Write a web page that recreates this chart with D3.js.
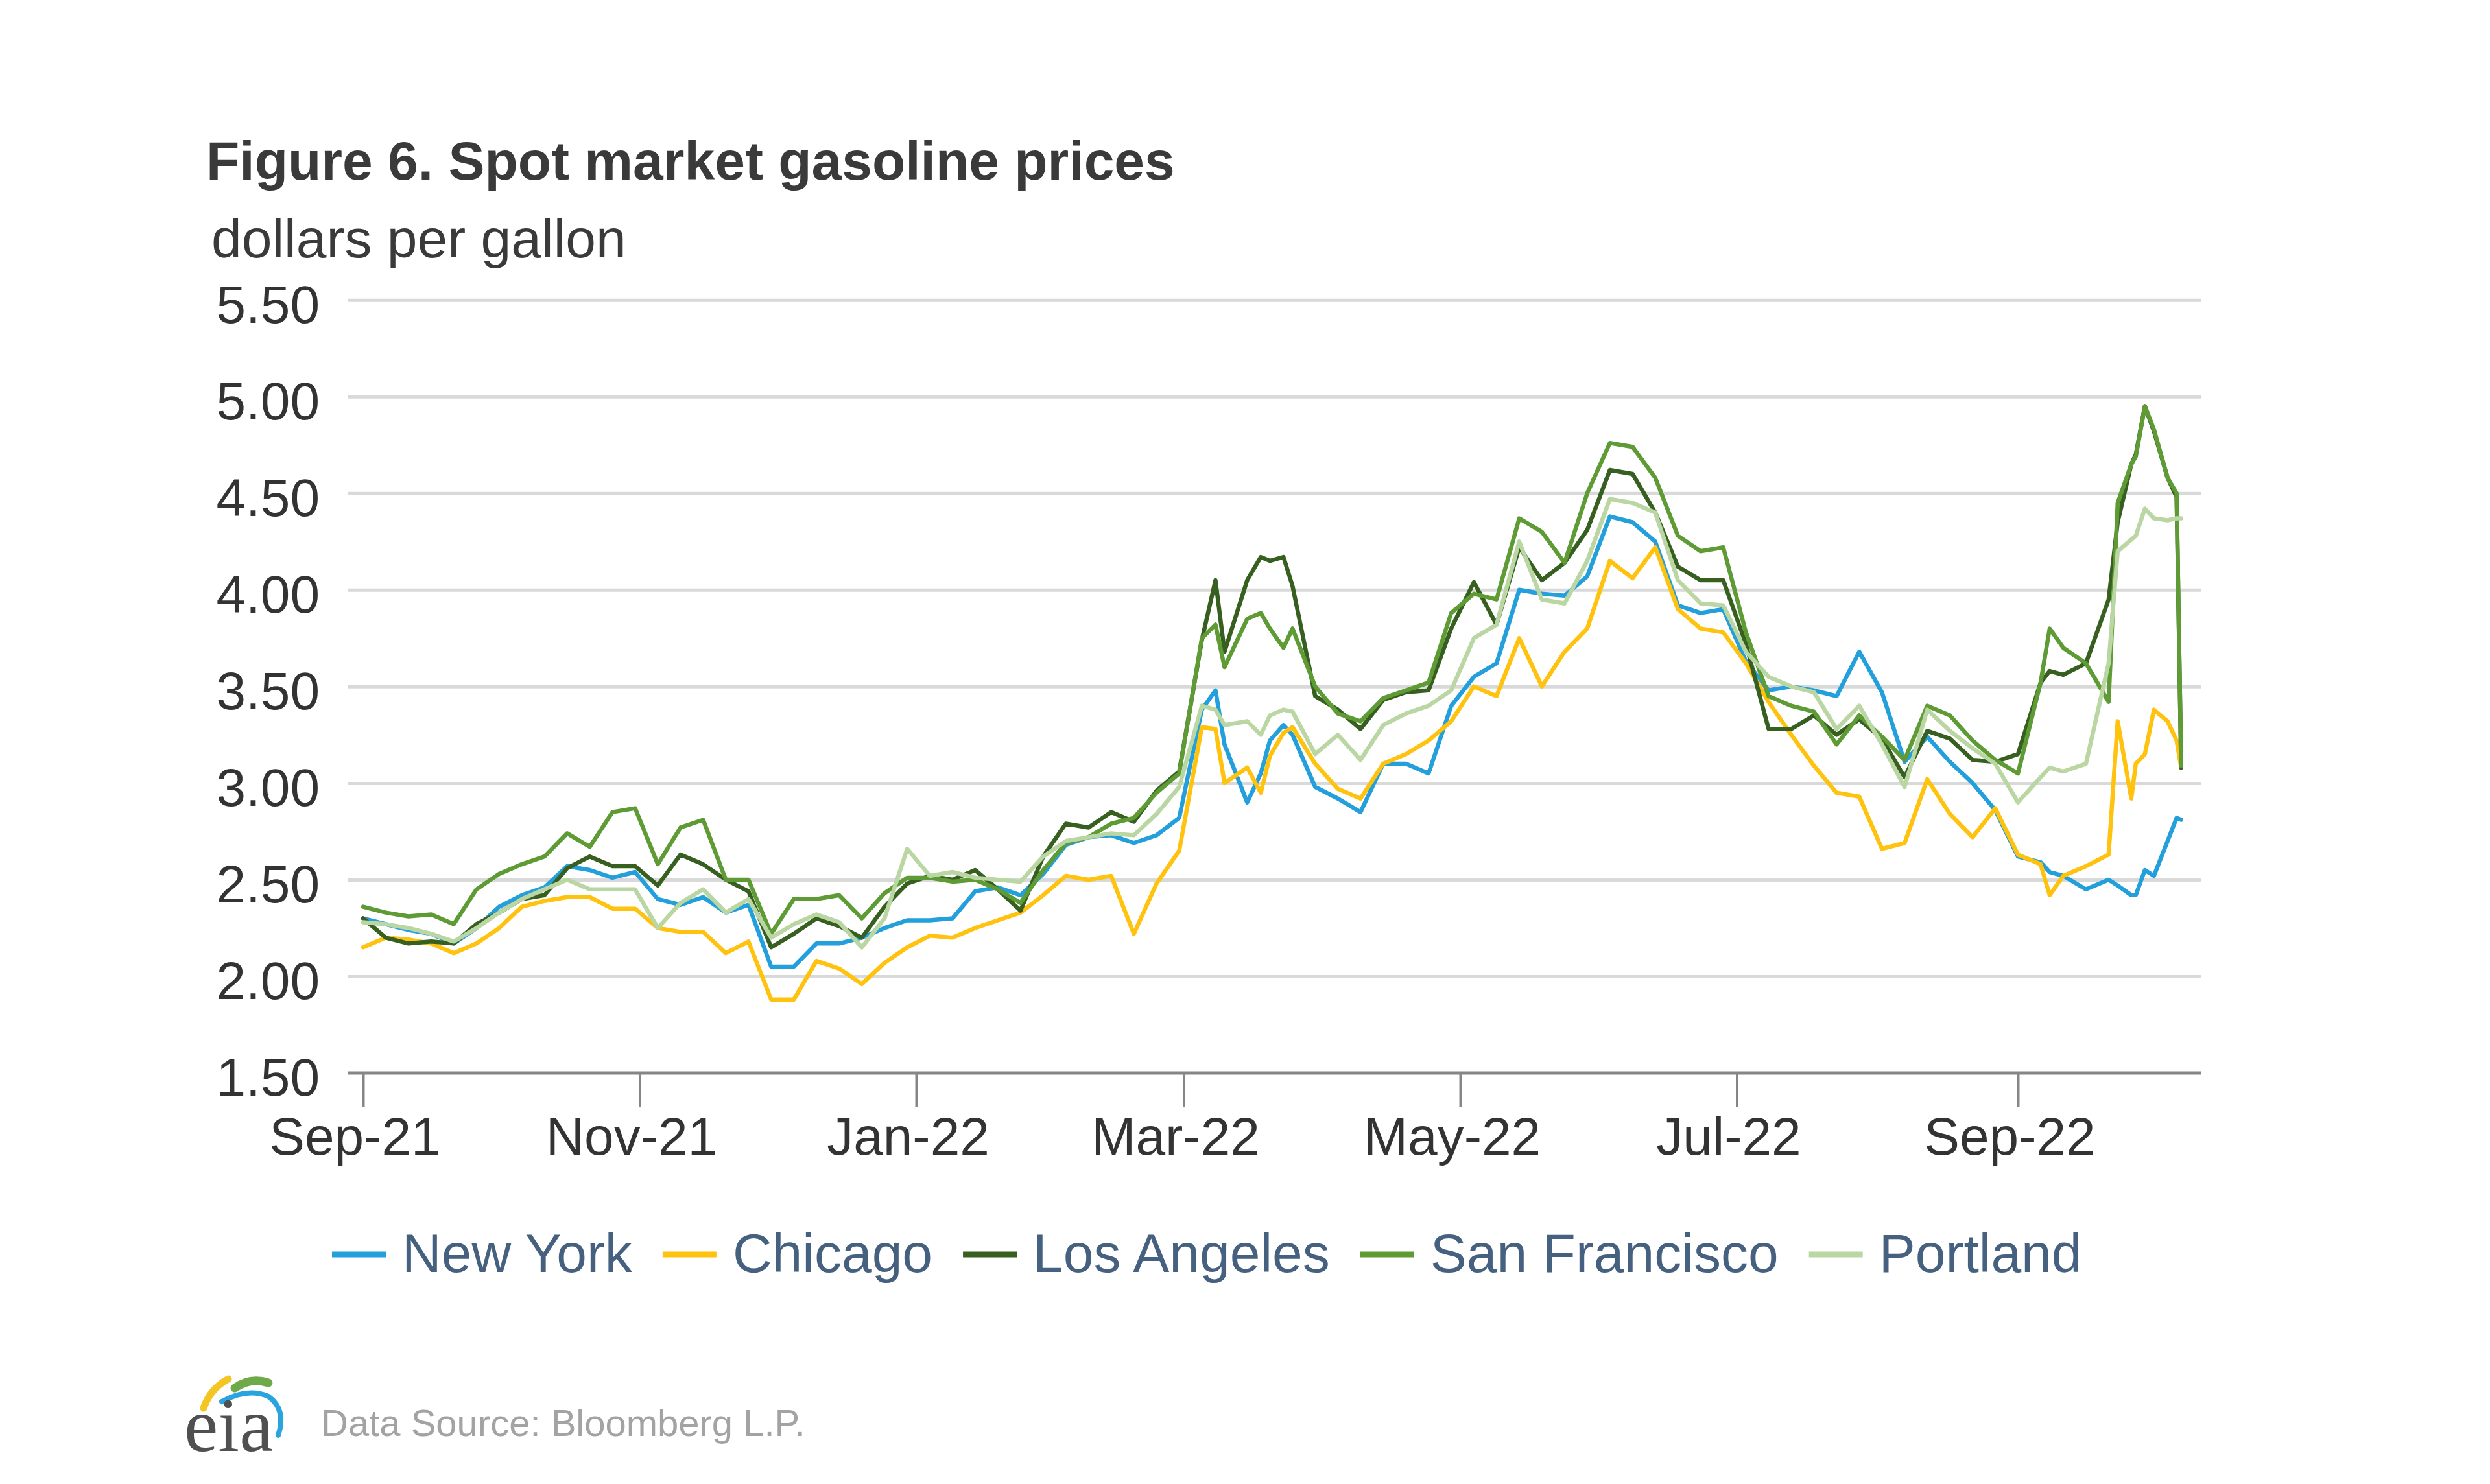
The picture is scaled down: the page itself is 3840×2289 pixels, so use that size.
<!DOCTYPE html>
<html>
<head>
<meta charset="utf-8">
<script src="https://cdn.jsdelivr.net/npm/d3@7"></script>
<style>
  html, body { margin: 0; padding: 0; background: #ffffff; }
  svg { display: block; }
</style>
</head>
<body>
<svg id="chart" width="3840" height="2289"></svg>
<script>
// ---------------- DATA ----------------
const title = "Figure 6. Spot market gasoline prices";
const unitLabel = "dollars per gallon";
const sourceText = "Data Source: Bloomberg L.P.";

const dates = [
  "2021-09-01","2021-09-06","2021-09-11","2021-09-16","2021-09-21","2021-09-26","2021-10-01","2021-10-06","2021-10-11","2021-10-16","2021-10-21","2021-10-26","2021-10-31","2021-11-05","2021-11-10","2021-11-15","2021-11-20","2021-11-25","2021-11-30","2021-12-05","2021-12-10","2021-12-15","2021-12-20","2021-12-25","2021-12-30","2022-01-04",
  "2022-01-09","2022-01-14","2022-01-19","2022-01-24","2022-01-29","2022-02-03","2022-02-08","2022-02-13","2022-02-18","2022-02-23","2022-02-28",
  "2022-03-05","2022-03-08","2022-03-10","2022-03-15","2022-03-18","2022-03-20","2022-03-23","2022-03-25",
  "2022-03-30","2022-04-04","2022-04-09","2022-04-14","2022-04-19","2022-04-24","2022-04-29","2022-05-04","2022-05-09","2022-05-14","2022-05-19","2022-05-24","2022-05-29","2022-06-03","2022-06-08","2022-06-13","2022-06-18",
  "2022-06-23","2022-06-28","2022-07-03","2022-07-08","2022-07-13","2022-07-18","2022-07-23","2022-07-28","2022-08-02","2022-08-07","2022-08-12","2022-08-17","2022-08-22","2022-08-27","2022-09-01",
  "2022-09-06","2022-09-08","2022-09-11","2022-09-16","2022-09-21","2022-09-23","2022-09-26","2022-09-27","2022-09-29","2022-10-01","2022-10-04","2022-10-06","2022-10-07"
];

const newYork = [
  2.30,2.27,2.24,2.22,2.17,2.25,2.36,2.42,2.46,2.57,2.55,2.51,2.54,2.40,2.37,2.41,2.33,2.37,2.05,2.05,2.17,2.17,2.20,2.25,2.29,2.29,
  2.30,2.44,2.46,2.42,2.53,2.68,2.72,2.73,2.69,2.73,2.82,
  3.38,3.48,3.20,2.90,3.05,3.22,3.30,3.25,
  2.98,2.92,2.85,3.10,3.10,3.05,3.40,3.55,3.62,4.00,3.98,3.97,4.07,4.38,4.35,4.25,3.92,
  3.88,3.90,3.63,3.48,3.50,3.48,3.45,3.68,3.47,3.11,3.24,3.11,3.00,2.86,2.62,
  2.59,2.54,2.52,2.45,2.50,2.47,2.42,2.42,2.55,2.52,2.70,2.82,2.81
];
const chicago = [
  2.15,2.20,2.19,2.17,2.12,2.17,2.25,2.36,2.39,2.41,2.41,2.35,2.35,2.25,2.23,2.23,2.12,2.18,1.88,1.88,2.08,2.04,1.96,2.07,2.15,2.21,
  2.20,2.25,2.29,2.33,2.42,2.52,2.50,2.52,2.22,2.48,2.65,
  3.29,3.28,3.00,3.08,2.95,3.14,3.26,3.29,
  3.10,2.97,2.92,3.10,3.15,3.22,3.32,3.50,3.45,3.75,3.50,3.68,3.80,4.15,4.06,4.22,3.90,
  3.80,3.78,3.62,3.42,3.25,3.09,2.95,2.93,2.66,2.69,3.02,2.84,2.72,2.87,2.63,
  2.58,2.42,2.52,2.57,2.63,3.32,2.92,3.10,3.15,3.38,3.32,3.22,3.08
];
const losAngeles = [
  2.30,2.20,2.17,2.18,2.17,2.27,2.33,2.40,2.42,2.56,2.62,2.57,2.57,2.47,2.63,2.58,2.50,2.44,2.15,2.22,2.30,2.26,2.20,2.36,2.48,2.52,
  2.50,2.55,2.45,2.34,2.62,2.79,2.77,2.85,2.80,2.96,3.06,
  3.74,4.05,3.68,4.05,4.17,4.15,4.17,4.02,
  3.45,3.38,3.28,3.43,3.47,3.48,3.80,4.04,3.82,4.22,4.05,4.14,4.31,4.62,4.60,4.40,4.12,
  4.05,4.05,3.72,3.28,3.28,3.35,3.25,3.33,3.23,3.03,3.27,3.23,3.12,3.11,3.15,
  3.52,3.58,3.56,3.62,3.95,4.35,4.65,4.70,4.95,4.82,4.58,4.48,3.08
];
const sanFrancisco = [
  2.36,2.33,2.31,2.32,2.27,2.45,2.53,2.58,2.62,2.74,2.67,2.85,2.87,2.58,2.77,2.81,2.50,2.50,2.22,2.40,2.40,2.42,2.30,2.43,2.51,2.51,
  2.49,2.50,2.45,2.38,2.55,2.69,2.72,2.79,2.82,2.95,3.05,
  3.75,3.82,3.60,3.85,3.88,3.80,3.70,3.80,
  3.50,3.36,3.32,3.44,3.48,3.52,3.88,3.98,3.95,4.37,4.30,4.14,4.50,4.76,4.74,4.58,4.28,
  4.20,4.22,3.78,3.45,3.40,3.37,3.20,3.35,3.24,3.12,3.40,3.35,3.22,3.12,3.05,
  3.52,3.80,3.70,3.62,3.42,4.45,4.65,4.69,4.95,4.83,4.58,4.50,3.09
];
const portland = [
  2.28,2.27,2.25,2.22,2.18,2.25,2.33,2.40,2.45,2.50,2.45,2.45,2.45,2.25,2.38,2.45,2.33,2.40,2.20,2.27,2.32,2.28,2.15,2.30,2.66,2.52,
  2.54,2.51,2.50,2.49,2.62,2.70,2.72,2.74,2.73,2.84,2.98,
  3.40,3.38,3.30,3.32,3.25,3.35,3.38,3.37,
  3.15,3.25,3.12,3.30,3.36,3.40,3.48,3.75,3.82,4.25,3.95,3.93,4.15,4.47,4.45,4.40,4.05,
  3.93,3.92,3.68,3.55,3.50,3.47,3.28,3.40,3.20,2.98,3.38,3.27,3.18,3.10,2.90,
  3.03,3.08,3.06,3.10,3.62,4.20,4.26,4.28,4.42,4.37,4.36,4.37,4.37
];

const seriesNames = ["New York", "Chicago", "Los Angeles", "San Francisco", "Portland"];
const seriesColors = ["#23a0dc", "#ffc20e", "#365f20", "#5e9b35", "#bad6a2"];
const seriesValues = [newYork, chicago, losAngeles, sanFrancisco, portland];

const yTicks = [1.5, 2.0, 2.5, 3.0, 3.5, 4.0, 4.5, 5.0, 5.5];
const xTickDates = ["2021-09-01","2021-11-01","2022-01-01","2022-03-01","2022-05-01","2022-07-01","2022-09-01"];

// ---------------- LAYOUT ----------------
const svg = d3.select("#chart");
const parse = d3.timeParse("%Y-%m-%d");
const plotLeft = 537, plotRight = 3394;
const yTop = 462.7, yBottom = 1655;
const sans = "'Liberation Sans', Arial, Helvetica, sans-serif";

const x = d3.scaleTime()
  .domain([parse("2021-09-01"), parse("2022-09-01")])
  .range([560, 3112]);
const y = d3.scaleLinear().domain([1.5, 5.5]).range([yBottom, yTop]);

const textColor = "#333333";

// Title + unit
svg.append("text").attr("x", 318).attr("y", 277)
  .style("font-family", sans)
  .attr("font-size", 84).attr("font-weight", "bold").attr("fill", "#3a3a3a")
  .text(title);
svg.append("text").attr("x", 326).attr("y", 397)
  .style("font-family", sans)
  .attr("font-size", 84).attr("fill", "#3a3a3a")
  .text(unitLabel);

// Gridlines + y labels
const yAxis = d3.axisLeft(y)
  .tickValues(yTicks)
  .tickFormat(d3.format(".2f"))
  .tickSize(-(plotRight - plotLeft))
  .tickPadding(44);
const gy = svg.append("g").attr("transform", `translate(${plotLeft},0)`).call(yAxis);
gy.select(".domain").remove();
gy.selectAll(".tick line").attr("stroke", "#d9d9d9").attr("stroke-width", 5)
  .filter(d => d === 1.5).remove();
gy.selectAll(".tick text").attr("font-size", 82).attr("fill", textColor)
  .style("font-family", sans)
  .attr("dy", "0.42em");

// Lines
const line = d3.line()
  .x((d, i) => x(parse(dates[i])))
  .y(d => y(d))
  .curve(d3.curveLinear);

const gLines = svg.append("g");
seriesValues.forEach((vals, k) => {
  gLines.append("path")
    .datum(vals)
    .attr("fill", "none")
    .attr("stroke", seriesColors[k])
    .attr("stroke-width", 6.5)
    .attr("stroke-linejoin", "round")
    .attr("stroke-linecap", "round")
    .attr("d", line);
});

// X axis
svg.append("line").attr("x1", plotLeft).attr("x2", plotRight + 1)
  .attr("y1", yBottom).attr("y2", yBottom)
  .attr("stroke", "#868686").attr("stroke-width", 5);
const xAxis = d3.axisBottom(x)
  .tickValues(xTickDates.map(parse))
  .tickFormat(d3.timeFormat("%b-%y"))
  .tickSize(52)
  .tickPadding(16);
const gx = svg.append("g").attr("transform", `translate(0,${yBottom})`).call(xAxis);
gx.select(".domain").remove();
gx.selectAll(".tick line").attr("stroke", "#868686").attr("stroke-width", 4);
gx.selectAll(".tick text").attr("font-size", 82).attr("fill", textColor)
  .style("font-family", sans)
  .attr("dx", -13);

// Legend
const legendY = 1935;
let lx = 512;
const gLeg = svg.append("g");
seriesNames.forEach((name, k) => {
  gLeg.append("line").attr("x1", lx).attr("x2", lx + 83)
    .attr("y1", legendY).attr("y2", legendY)
    .attr("stroke", seriesColors[k]).attr("stroke-width", 9);
  const t = gLeg.append("text").attr("x", lx + 108).attr("y", legendY + 27)
    .style("font-family", sans)
    .attr("font-size", 84).attr("fill", "#46617f").text(name);
  lx = lx + 108 + t.node().getComputedTextLength() + 47;
});

// Footer: EIA logo + source
const gLogo = svg.append("g");
gLogo.append("path").attr("d", "M 314 2172 Q 324 2142 352 2127")
  .attr("fill", "none").attr("stroke", "#f3c623").attr("stroke-width", 11).attr("stroke-linecap", "round");
gLogo.append("path").attr("d", "M 362 2141 Q 386 2124 414 2133")
  .attr("fill", "none").attr("stroke", "#6ea94a").attr("stroke-width", 13).attr("stroke-linecap", "round");
gLogo.append("path").attr("d", "M 342 2162 Q 382 2140 414 2154 Q 442 2174 429 2214")
  .attr("fill", "none").attr("stroke", "#2aa4de").attr("stroke-width", 8).attr("stroke-linecap", "round");
gLogo.append("text").attr("x", 284).attr("y", 2238)
  .style("font-family", "'Liberation Serif', 'DejaVu Serif', serif")
  .attr("font-size", 118).attr("fill", "#505050")
  .text("eia");
svg.append("text").attr("x", 495).attr("y", 2215)
  .style("font-family", sans)
  .attr("font-size", 58).attr("fill", "#a3a3a3")
  .text(sourceText);
</script>
</body>
</html>
